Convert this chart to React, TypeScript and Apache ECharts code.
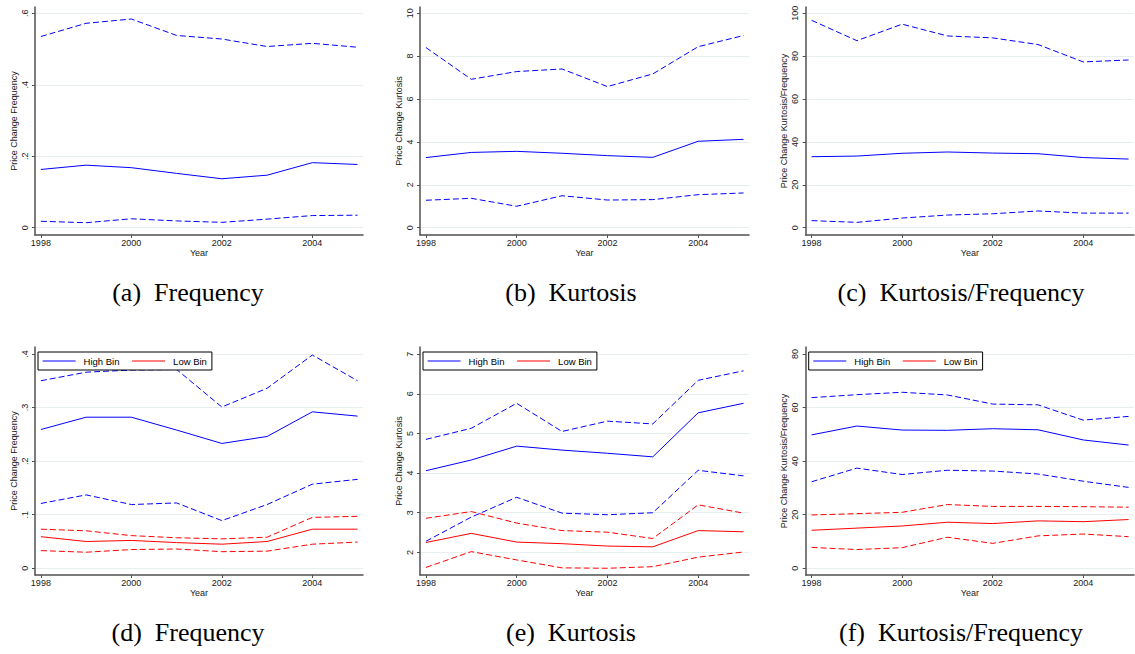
import React, { useEffect, useRef } from 'react';
import * as echarts from 'echarts';

// ---------- data ----------
const years = [1998, 1999, 2000, 2001, 2002, 2003, 2004, 2005];
const yearTicks = [1998, 2000, 2002, 2004];

// (a) Frequency – all products
const freqUpper = [0.535, 0.572, 0.584, 0.538, 0.528, 0.507, 0.516, 0.505];
const freqMid = [0.163, 0.175, 0.168, 0.152, 0.137, 0.147, 0.182, 0.177];
const freqLower = [0.018, 0.014, 0.025, 0.019, 0.015, 0.024, 0.034, 0.035];
const freqTicks = [0, 0.2, 0.4, 0.6];

// (b) Kurtosis – all products
const kurtUpper = [8.4, 6.92, 7.28, 7.4, 6.58, 7.17, 8.44, 8.96];
const kurtMid = [3.27, 3.51, 3.56, 3.47, 3.36, 3.28, 4.03, 4.12];
const kurtLower = [1.28, 1.37, 1.0, 1.49, 1.29, 1.31, 1.54, 1.62];
const kurtTicks = [0, 2, 4, 6, 8, 10];

// (c) Kurtosis/Frequency – all products
const ratioUpper = [96.7, 87.2, 94.9, 89.4, 88.5, 85.4, 77.3, 78.2];
const ratioMid = [33.1, 33.4, 34.7, 35.3, 34.8, 34.5, 32.7, 32.0];
const ratioLower = [3.3, 2.5, 4.5, 5.9, 6.5, 7.8, 6.8, 6.8];
const ratioTicks = [0, 20, 40, 60, 80, 100];

// (d) Frequency – bins
const freqHighUpper = [0.35, 0.366, 0.37, 0.371, 0.301, 0.336, 0.398, 0.35];
const freqHighMid = [0.259, 0.282, 0.282, 0.258, 0.233, 0.246, 0.292, 0.284];
const freqHighLower = [0.121, 0.137, 0.119, 0.122, 0.089, 0.119, 0.157, 0.166];
const freqLowUpper = [0.073, 0.07, 0.061, 0.057, 0.055, 0.058, 0.095, 0.097];
const freqLowMid = [0.059, 0.05, 0.052, 0.048, 0.045, 0.05, 0.073, 0.073];
const freqLowLower = [0.033, 0.03, 0.035, 0.036, 0.031, 0.032, 0.045, 0.049];
const freqBinTicks = [0, 0.1, 0.2, 0.3, 0.4];

// (e) Kurtosis – bins
const kurtHighUpper = [4.85, 5.13, 5.76, 5.05, 5.31, 5.24, 6.34, 6.58];
const kurtHighMid = [4.06, 4.33, 4.68, 4.58, 4.5, 4.41, 5.52, 5.76];
const kurtHighLower = [2.28, 2.89, 3.39, 2.99, 2.95, 3.0, 4.07, 3.93];
const kurtLowUpper = [2.86, 3.03, 2.74, 2.55, 2.51, 2.35, 3.2, 2.99];
const kurtLowMid = [2.25, 2.48, 2.26, 2.22, 2.16, 2.14, 2.55, 2.52];
const kurtLowLower = [1.62, 2.02, 1.81, 1.61, 1.6, 1.64, 1.88, 2.01];
const kurtBinTicks = [2, 3, 4, 5, 6, 7];

// (f) Kurtosis/Frequency – bins
const ratioHighUpper = [63.7, 64.8, 65.7, 64.7, 61.3, 61.0, 55.3, 56.7];
const ratioHighMid = [49.8, 53.1, 51.6, 51.5, 52.1, 51.7, 47.9, 46.0];
const ratioHighLower = [32.3, 37.4, 35.0, 36.6, 36.3, 35.2, 32.5, 30.2];
const ratioLowUpper = [19.9, 20.4, 20.9, 23.8, 23.1, 23.1, 23.0, 22.8];
const ratioLowMid = [14.2, 15.0, 15.8, 17.2, 16.7, 17.7, 17.4, 18.2];
const ratioLowLower = [7.8, 7.0, 7.7, 11.6, 9.3, 12.1, 12.8, 11.8];
const ratioBinTicks = [0, 20, 40, 60, 80];

const captions = [
  '(a)  Frequency',
  '(b)  Kurtosis',
  '(c)  Kurtosis/Frequency',
  '(d)  Frequency',
  '(e)  Kurtosis',
  '(f)  Kurtosis/Frequency',
];
const yNames = [
  'Price Change Frequency',
  'Price Change Kurtosis',
  'Price Change Kurtosis/Frequency',
  'Price Change Frequency',
  'Price Change Kurtosis',
  'Price Change Kurtosis/Frequency',
];
const legendNames = ['High Bin', 'Low Bin'];

// ---------- styles / layout ----------
const BLUE = '#0000ff';
const RED = '#ff0000';
const SANS = 'Liberation Sans';
const SERIF = 'Liberation Serif';
const AXIS_COLOR = '#505050';
const GRID_COLOR = '#e6eef0';

type Line = { name: string; data: number[]; color: string; dashed: boolean };

const panels: { ticks: number[]; range: [number, number]; lines: Line[]; legend: boolean }[] = [
  {
    ticks: freqTicks,
    range: [-0.0204, 0.6176],
    legend: false,
    lines: [
      { name: 'Upper', data: freqUpper, color: BLUE, dashed: true },
      { name: 'Center', data: freqMid, color: BLUE, dashed: false },
      { name: 'Lower', data: freqLower, color: BLUE, dashed: true },
    ],
  },
  {
    ticks: kurtTicks,
    range: [-0.34, 10.29],
    legend: false,
    lines: [
      { name: 'Upper', data: kurtUpper, color: BLUE, dashed: true },
      { name: 'Center', data: kurtMid, color: BLUE, dashed: false },
      { name: 'Lower', data: kurtLower, color: BLUE, dashed: true },
    ],
  },
  {
    ticks: ratioTicks,
    range: [-3.4, 102.9],
    legend: false,
    lines: [
      { name: 'Upper', data: ratioUpper, color: BLUE, dashed: true },
      { name: 'Center', data: ratioMid, color: BLUE, dashed: false },
      { name: 'Lower', data: ratioLower, color: BLUE, dashed: true },
    ],
  },
  {
    ticks: freqBinTicks,
    range: [-0.0125, 0.413],
    legend: true,
    lines: [
      { name: 'High Bin upper', data: freqHighUpper, color: BLUE, dashed: true },
      { name: 'High Bin', data: freqHighMid, color: BLUE, dashed: false },
      { name: 'High Bin lower', data: freqHighLower, color: BLUE, dashed: true },
      { name: 'Low Bin upper', data: freqLowUpper, color: RED, dashed: true },
      { name: 'Low Bin', data: freqLowMid, color: RED, dashed: false },
      { name: 'Low Bin lower', data: freqLowLower, color: RED, dashed: true },
    ],
  },
  {
    ticks: kurtBinTicks,
    range: [1.43, 7.18],
    legend: true,
    lines: [
      { name: 'High Bin upper', data: kurtHighUpper, color: BLUE, dashed: true },
      { name: 'High Bin', data: kurtHighMid, color: BLUE, dashed: false },
      { name: 'High Bin lower', data: kurtHighLower, color: BLUE, dashed: true },
      { name: 'Low Bin upper', data: kurtLowUpper, color: RED, dashed: true },
      { name: 'Low Bin', data: kurtLowMid, color: RED, dashed: false },
      { name: 'Low Bin lower', data: kurtLowLower, color: RED, dashed: true },
    ],
  },
  {
    ticks: ratioBinTicks,
    range: [-2.5, 82.6],
    legend: true,
    lines: [
      { name: 'High Bin upper', data: ratioHighUpper, color: BLUE, dashed: true },
      { name: 'High Bin', data: ratioHighMid, color: BLUE, dashed: false },
      { name: 'High Bin lower', data: ratioHighLower, color: BLUE, dashed: true },
      { name: 'Low Bin upper', data: ratioLowUpper, color: RED, dashed: true },
      { name: 'Low Bin', data: ratioLowMid, color: RED, dashed: false },
      { name: 'Low Bin lower', data: ratioLowLower, color: RED, dashed: true },
    ],
  },
];

const colLefts = [35, 420, 805.7];
const colWidths = [328, 329, 328.3];
const rowTops = [7, 347];
const plotHeight = 228;
const captionX = [188, 571, 961];
const captionY = [292.5, 632.5];

const fmt = (v: number) => {
  const s = String(v);
  return s.startsWith('0.') ? s.slice(1) : s;
};

function buildOption() {
  const grid: any[] = [];
  const xAxis: any[] = [];
  const yAxis: any[] = [];
  const series: any[] = [];
  const legend: any[] = [];
  const graphic: any[] = [];

  panels.forEach((p, i) => {
    const col = i % 3;
    const row = Math.floor(i / 3);
    const left = colLefts[col];
    const top = rowTops[row];
    grid.push({
      left,
      top,
      width: colWidths[col],
      height: plotHeight,
      containLabel: false,
      outerBoundsMode: 'none',
    });
    xAxis.push({
      type: 'value',
      gridIndex: i,
      min: 1997.87,
      max: 2005.12,
      name: 'Year',
      nameLocation: 'middle',
      nameGap: 13,
      nameTextStyle: { fontFamily: SANS, fontSize: 9, color: '#1a1a1a' },
      axisLine: { show: true, onZero: false, lineStyle: { color: AXIS_COLOR, width: 1.5 } },
      axisTick: { show: true, length: 3, customValues: yearTicks, lineStyle: { color: AXIS_COLOR, width: 1 } },
      axisLabel: {
        customValues: yearTicks,
        fontFamily: SANS,
        fontSize: 9,
        color: '#1a1a1a',
        margin: 3,
        formatter: (v: number) => String(v),
      },
      splitLine: { show: false },
    });
    yAxis.push({
      type: 'value',
      gridIndex: i,
      min: p.range[0],
      max: p.range[1],
      name: yNames[i],
      nameLocation: 'middle',
      nameRotate: 90,
      nameGap: 17,
      nameTextStyle: { fontFamily: SANS, fontSize: 9, color: '#1a1a1a' },
      axisLine: { show: true, onZero: false, lineStyle: { color: AXIS_COLOR, width: 1.5 } },
      axisTick: { show: true, length: 3, customValues: p.ticks, lineStyle: { color: AXIS_COLOR, width: 1 } },
      axisLabel: {
        customValues: p.ticks,
        rotate: 90,
        fontFamily: SANS,
        fontSize: 9,
        color: '#1a1a1a',
        margin: 6,
        formatter: fmt,
      },
      splitLine: { show: true, lineStyle: { color: GRID_COLOR, width: 1 } },
    });
    p.lines.forEach((l) => {
      series.push({
        type: 'line',
        name: l.name,
        xAxisIndex: i,
        yAxisIndex: i,
        data: years.map((y, k) => [y, l.data[k]]),
        symbol: 'none',
        showSymbol: false,
        silent: true,
        color: l.color,
        lineStyle: { color: l.color, width: 1, type: l.dashed ? [6, 3] : 'solid' },
        z: l.dashed ? 2 : 3,
      });
    });
    if (p.legend) {
      legend.push({
        data: legendNames,
        left: left + 3,
        top: 352,
        orient: 'horizontal',
        borderColor: '#000',
        borderWidth: 1,
        borderRadius: 0,
        backgroundColor: '#fff',
        padding: [4, 5, 4, 4],
        itemWidth: 33,
        itemHeight: 2,
        itemGap: 12,
        selectedMode: false,
        itemStyle: { opacity: 0, borderWidth: 0 },
        lineStyle: { width: 1.2 },
        textStyle: {
          fontFamily: SANS,
          fontSize: 9.5,
          color: '#000',
          padding: [0, 0, 0, 3],
          lineHeight: 8,
        },
      });
    }
    graphic.push({
      type: 'text',
      x: captionX[col],
      y: captionY[row],
      silent: true,
      style: {
        text: captions[i],
        fontFamily: SERIF,
        fontSize: 26,
        fill: '#000',
        align: 'center',
        verticalAlign: 'middle',
      },
    });
  });

  return {
    animation: false,
    backgroundColor: '#ffffff',
    grid,
    xAxis,
    yAxis,
    series,
    legend,
    graphic,
  };
}

export default function App() {
  const ref = useRef<HTMLDivElement>(null);
  useEffect(() => {
    document.body.style.margin = '0';
    if (!ref.current) return;
    const chart = echarts.init(ref.current, undefined, { renderer: 'svg' });
    chart.setOption(buildOption() as any);
    return () => chart.dispose();
  }, []);
  return (
    <div
      ref={ref}
      style={{ position: 'absolute', left: 0, top: 0, width: 1135, height: 654, background: '#fff' }}
    />
  );
}
